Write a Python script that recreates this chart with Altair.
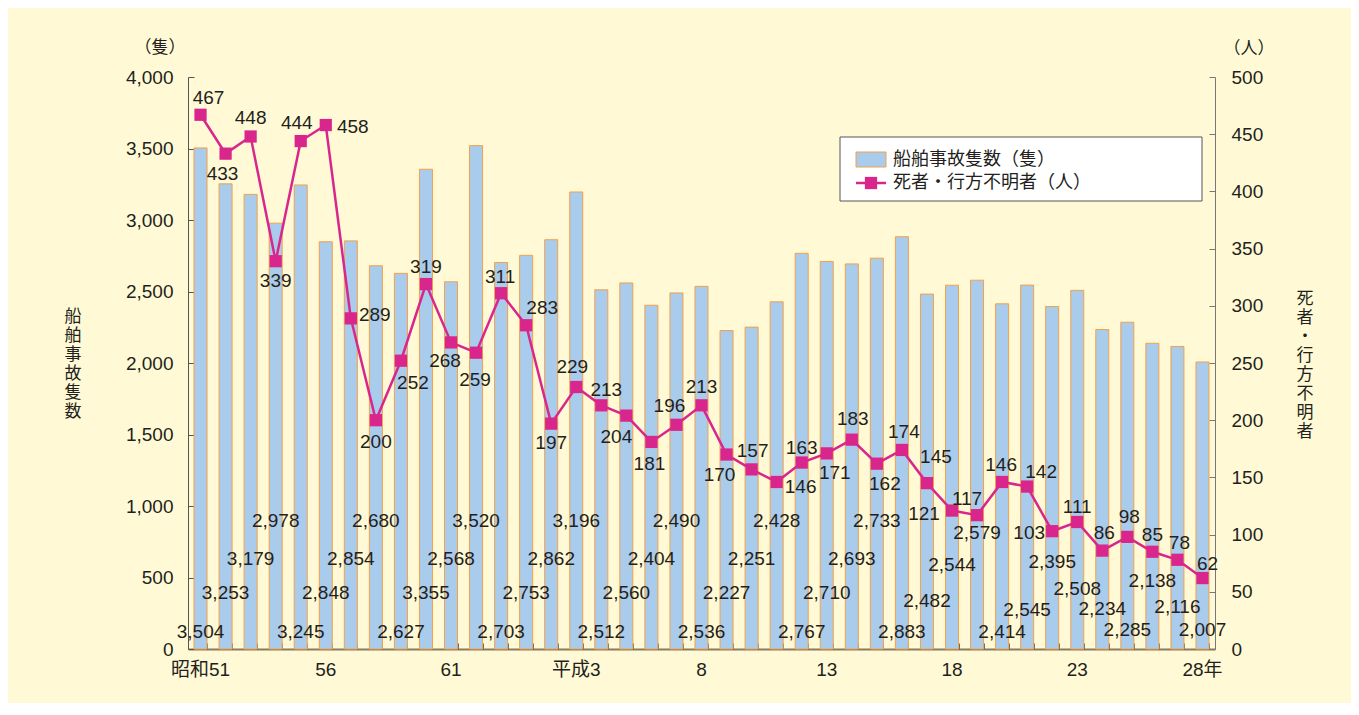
import json
import altair as alt
import pandas as pd

# ---------------- data ----------------
ships = [3504, 3253, 3179, 2978, 3245, 2848, 2854, 2680, 2627, 3355, 2568, 3520, 2703, 2753,
         2862, 3196, 2512, 2560, 2404, 2490, 2536, 2227, 2251, 2428, 2767, 2710, 2693, 2733,
         2883, 2482, 2544, 2579, 2414, 2545, 2395, 2508, 2234, 2285, 2138, 2116, 2007]
deaths = [467, 433, 448, 339, 444, 458, 289, 200, 252, 319, 268, 259, 311, 283, 197, 229,
          213, 204, 181, 196, 213, 170, 157, 146, 163, 171, 183, 162, 174, 145, 121, 117,
          146, 142, 103, 111, 86, 98, 85, 78, 62]
tick_labels = ["昭和51", "56", "61", "平成3", "8", "13", "18", "23", "28年"]

# label layout (bar-label height in left-axis units, line-label pixel offsets)
bar_label_at = [120, 390, 630, 895, 120, 390, 630, 895, 120, 390, 630, 895, 120, 390,
                630, 895, 120, 390, 630, 895, 120, 390, 630, 895, 120, 390, 630, 895,
                120, 336, 587, 811, 120, 273, 608, 420, 280, 133, 476, 294, 133]
line_dx = [8, -3, 0, 0, -4, 27, 24, 0, 12, 0, -6, -1, -1, 16, 0, -4, 5, -10, -2, -7, 0,
           -7, 1, 24, 0, 8, 1, 8, 2, 9, -28, -10, -1, 14, -23, 0, 2, 2, 0, 2, 5]
line_dy = [-17, 20, -18, 20, -18, 2, -3, 22, 22, -17, 19, 27, -16, -17, 19, -20, -15, 21,
           22, -19, -18, 20, -18, 5, -15, 20, -21, 20, -18, -26, 3, -16, -17, -15, 2, -15,
           -18, -20, -17, -17, -14]

# ---------------- style ----------------
BG = "#FFFAD5"
BAR_FILL = "#A9CBEC"
BAR_STROKE = "#F3A04A"
MAG = "#D9268D"
TXT = "#231F20"
FONT = "Liberation Sans, Noto Sans CJK JP"
CJK = "Noto Sans CJK JP"
FS = 19

n = len(ships)
df = pd.DataFrame({
    "i": list(range(n)),
    "ships": ships,
    "deaths": deaths,
    "blbl": bar_label_at,
    "ldx": line_dx,
    "ldy": line_dy,
})

W, H = 1027, 572
xscale = alt.Scale(paddingInner=0.48, paddingOuter=0.24)
label_expr = json.dumps(tick_labels, ensure_ascii=False) + "[datum.value / 5]"

base = alt.Chart(df)

x_main = alt.X("i:O", scale=xscale, title=None,
               axis=alt.Axis(orient="bottom", values=list(range(0, n, 5)), labelExpr=label_expr,
                             labelAngle=0, ticks=False, tickSize=0, labelPadding=11,
                             domainColor="#8C7B5C", domainWidth=2, labelFont=FONT,
                             labelFontSize=FS, labelColor=TXT))
x_ticks = alt.X("i:O", scale=xscale, title=None,
                axis=alt.Axis(orient="bottom", offset=-6, domain=False, labels=False,
                              ticks=True, tickSize=6, tickBand="extent", tickColor="#6b6b6b"))
x_none = alt.X("i:O", scale=xscale, axis=None)

left_dom = alt.Scale(domain=[0, 4000], nice=False)
right_dom = alt.Scale(domain=[0, 500], nice=False)

bars = base.mark_bar(fill=BAR_FILL, stroke=BAR_STROKE, strokeWidth=1).encode(
    x=x_main,
    y=alt.Y("ships:Q", scale=left_dom, title=None,
            axis=alt.Axis(orient="left", values=list(range(0, 4001, 500)), format=",d",
                          ticks=False, tickSize=0, labelPadding=15, domainColor="#555555",
                          labelFont=FONT, labelFontSize=FS, labelColor=TXT, grid=False)),
)

bar_labels = base.mark_text(font=FONT, fontSize=FS, color=TXT, baseline="middle").encode(
    x=x_ticks,
    y=alt.Y("blbl:Q", scale=left_dom, title=None,
            axis=alt.Axis(orient="left", offset=-6, domain=False, labels=False,
                          values=list(range(0, 4001, 500)), ticks=True, tickSize=6,
                          tickColor="#555555", grid=False)),
    text=alt.Text("ships:Q", format=","),
)

line = base.mark_line(color=MAG, strokeWidth=2.5).encode(
    x=x_none,
    y=alt.Y("deaths:Q", scale=right_dom, title=None,
            axis=alt.Axis(orient="right", values=list(range(0, 501, 50)), format="d",
                          ticks=False, tickSize=0, labelPadding=16, domainColor="#777777",
                          labelFont=FONT, labelFontSize=FS, labelColor=TXT, grid=False)),
)

points = base.mark_point(shape="square", filled=True, size=150, color=MAG, opacity=1).encode(
    x=x_none,
    y=alt.Y("deaths:Q", scale=right_dom, title=None,
            axis=alt.Axis(orient="right", offset=-6, domain=False, labels=False,
                          values=list(range(0, 501, 50)), ticks=True, tickSize=6,
                          tickColor="#777777", grid=False)),
)

line_labels = base.mark_text(font=FONT, fontSize=FS, color=TXT, baseline="middle",
                             dx={"expr": "datum.ldx"}, dy={"expr": "datum.ldy"}).encode(
    x=x_none,
    y=alt.Y("deaths:Q", scale=right_dom, axis=None),
    text=alt.Text("deaths:Q"),
)

one = alt.Chart(pd.DataFrame({"k": [0]}))


def txt(s, x, y, size=17, align="center", font=CJK):
    return one.mark_text(font=font, fontSize=size, color=TXT, align=align,
                         baseline="middle").encode(x=alt.value(x), y=alt.value(y),
                                                   text=alt.value(s))


unit_left = txt("（隻）", -28, -29)
unit_right = txt("（人）", 1061, -28)
title_left = one.mark_text(font=CJK, fontSize=17, color=TXT, align="center", baseline="middle",
                           lineHeight=19, text=list("船舶事故隻数")).encode(
    x=alt.value(-115), y=alt.value(288 - 48))
title_right = one.mark_text(font=CJK, fontSize=17, color=TXT, align="center", baseline="middle",
                            lineHeight=19, text=list("死者・行方不明者")).encode(
    x=alt.value(1117), y=alt.value(289 - 67))

leg_box = one.mark_rect(fill="white", stroke="#555555", strokeWidth=1).encode(
    x=alt.value(652), x2=alt.value(1014), y=alt.value(60), y2=alt.value(124))
leg_sw = one.mark_rect(fill=BAR_FILL, stroke=BAR_STROKE, strokeWidth=1).encode(
    x=alt.value(668), x2=alt.value(698), y=alt.value(75), y2=alt.value(90))
leg_line = one.mark_rule(color=MAG, strokeWidth=2.5).encode(
    x=alt.value(668), x2=alt.value(698), y=alt.value(106))
leg_pt = one.mark_point(shape="square", filled=True, size=150, color=MAG, opacity=1).encode(
    x=alt.value(683), y=alt.value(106))
leg_t1 = txt("船舶事故隻数（隻）", 705, 83, size=18, align="left")
leg_t2 = txt("死者・行方不明者（人）", 705, 106, size=18, align="left")

chart = alt.layer(
    bars, bar_labels, line, points, line_labels,
    unit_left, unit_right, title_left, title_right,
    leg_box, leg_sw, leg_line, leg_pt, leg_t1, leg_t2,
).resolve_scale(y="independent").resolve_axis(x="independent").properties(
    width=W, height=H,
    autosize=alt.AutoSizeParams(type="none"),
    padding={"left": 180, "top": 69, "right": 136, "bottom": 54},
    background=BG,
).configure_view(stroke=None)

chart.save("out.html", embed_options={"renderer": "svg", "actions": False})
